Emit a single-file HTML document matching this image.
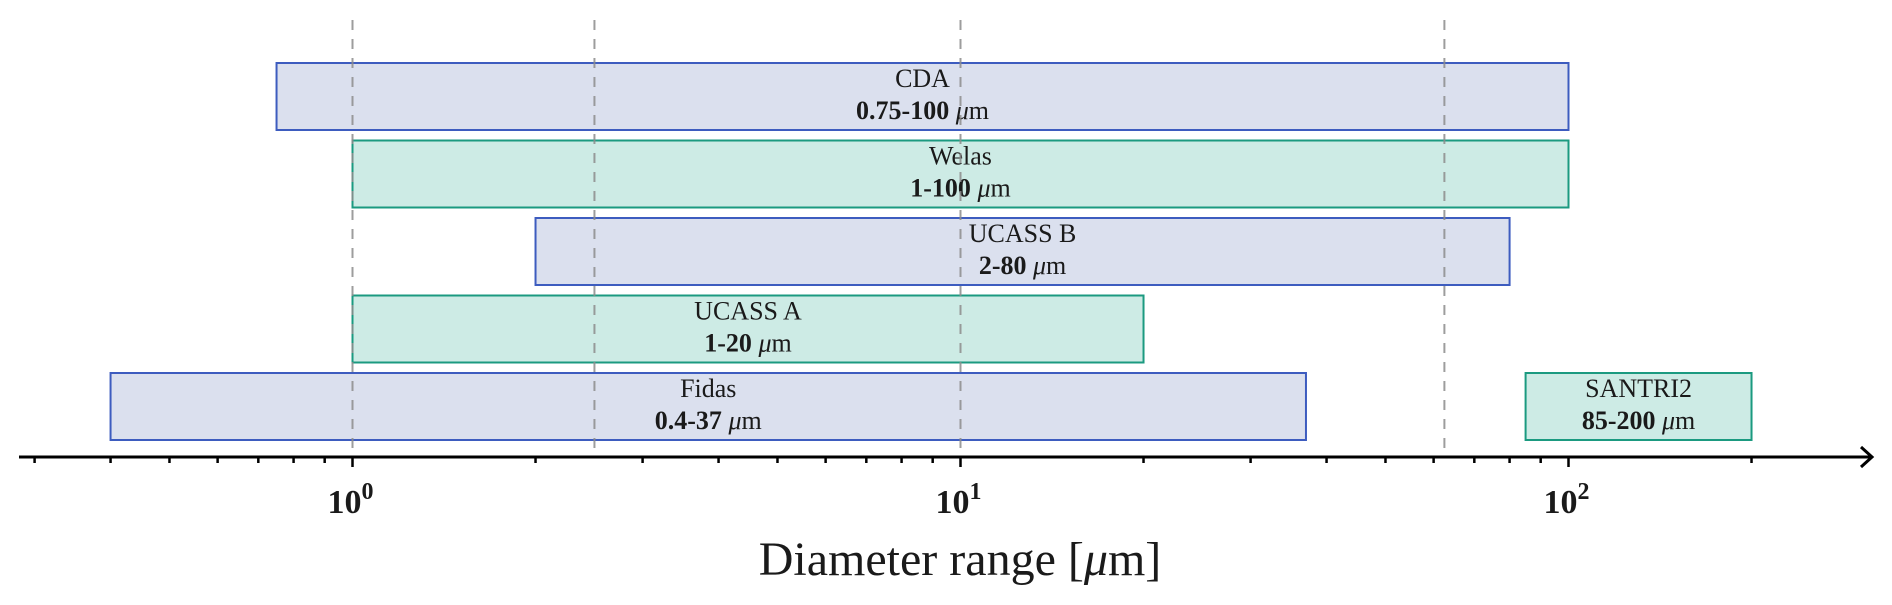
<!DOCTYPE html>
<html><head><meta charset="utf-8">
<style>
html,body{margin:0;padding:0;background:#fff;}
svg{display:block;}
text{font-family:"Liberation Serif","DejaVu Serif",serif;fill:#1a1a1a;}
</style></head>
<body>
<svg id="chart" width="1892" height="605" viewBox="0 0 1892 605" xmlns="http://www.w3.org/2000/svg">
<g id="bars"></g>
<g id="grid"></g>
<g id="axis"></g>
<text x="960" y="575" text-anchor="middle" font-size="48">Diameter range [<tspan font-style="italic">μ</tspan>m]</text>
</svg>
<script>
const instruments = ["CDA","Welas","UCASS B","UCASS A","Fidas","SANTRI2"];
const minDiam = [0.75, 1, 2, 1, 0.4, 85];
const maxDiam = [100, 100, 80, 20, 37, 200];
const rangeLabels = ["0.75-100","1-100","2-80","1-20","0.4-37","85-200"];
const rowIndex = [0,1,2,3,4,4];
const colorKind = ["blue","green","blue","green","blue","green"];
const refLines = [1, 2.5, 10, 62.5];
const majorTicks = [1, 10, 100];
const majorExp = ["0","1","2"];
const minorTicks = [0.3,0.4,0.5,0.6,0.7,0.8,0.9,2,3,4,5,6,7,8,9,20,30,40,50,60,70,80,90,200];

const NS="http://www.w3.org/2000/svg";
const x0=352.5, dec=608;
function xs(v){return x0+dec*Math.log10(v);}
const rowTop=63, rowPitch=77.5, rowH=67;
function ys(r){return rowTop+rowPitch*r;}
const axisY=457;
const colors={blue:{fill:"#dbe0ee",stroke:"#3d5cbf"},green:{fill:"#cdebe5",stroke:"#1b9a80"}};
function mk(tag,attrs,parent){const e=document.createElementNS(NS,tag);for(const k in attrs)e.setAttribute(k,attrs[k]);parent.appendChild(e);return e;}

const gb=document.getElementById("bars");
instruments.forEach((name,i)=>{
  const x1=xs(minDiam[i]),x2=xs(maxDiam[i]),y=ys(rowIndex[i]);
  const c=colors[colorKind[i]];
  const g=mk("g",{},gb);
  
  
  mk("rect",{x:x1,y:y,width:x2-x1,height:rowH,fill:c.fill,stroke:c.stroke,"stroke-width":2},g);
  const cx=(x1+x2)/2;
  const t1=mk("text",{x:cx,y:y+24,"text-anchor":"middle","font-size":26},g);
  t1.textContent=name;
  
  
  const t2=mk("text",{x:cx,y:y+56,"text-anchor":"middle","font-size":26},g);
  
  
  const a=mk("tspan",{"font-weight":"bold"},t2);a.textContent=rangeLabels[i]+" ";
  const b=mk("tspan",{"font-style":"italic"},t2);b.textContent="μ";
  const m=mk("tspan",{},t2);m.textContent="m";
});

const gg=document.getElementById("grid");
refLines.forEach(v=>{
  const l=mk("line",{x1:xs(v),x2:xs(v),y1:20,y2:axisY,stroke:"#8c8c8c","stroke-opacity":0.85,"stroke-width":2,"stroke-dasharray":"10 9"},gg);
  
  
});

const ga=document.getElementById("axis");
const al=mk("line",{x1:19,x2:1870,y1:axisY,y2:axisY,stroke:"#000","stroke-width":3},ga);


const ar=mk("path",{d:"M1861 447 L1872 457 L1861 467",fill:"none",stroke:"#000","stroke-width":3},ga);


minorTicks.forEach(v=>{
  const t=mk("line",{x1:xs(v),x2:xs(v),y1:axisY,y2:axisY+6,stroke:"#000","stroke-width":2.5},ga);
  
  
});
majorTicks.forEach((v,i)=>{
  const t=mk("line",{x1:xs(v),x2:xs(v),y1:axisY,y2:axisY+10,stroke:"#000","stroke-width":2.5},ga);
  
  
  const lb=mk("text",{x:xs(v)-2,y:axisY+56,"text-anchor":"middle","font-size":34,"font-weight":"bold"},ga);
  
  
  const b=mk("tspan",{},lb);b.textContent="10";
  const e=mk("tspan",{dy:-14,"font-size":24},lb);e.textContent=majorExp[i];
});
</script>
</body></html>
